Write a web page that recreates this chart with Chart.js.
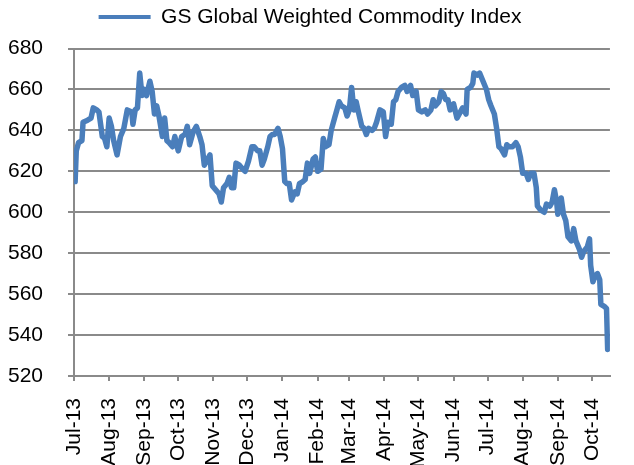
<!DOCTYPE html>
<html>
<head>
<meta charset="utf-8">
<script src="https://cdn.jsdelivr.net/npm/chart.js"></script>
<style>
  html, body { margin: 0; padding: 0; background: #ffffff; }
  #wrap { width: 634px; height: 465px; }
</style>
</head>
<body>
<div id="wrap"><canvas id="indexChart" width="634" height="465"></canvas></div>
<script>
// Days since 1 Jul 2013 and index level
const days = [
  1, 2, 4, 7, 8, 12, 15, 17, 20, 22, 25, 27, 29,
  31, 33, 35, 38, 41, 44, 47, 51, 52, 54, 56, 58, 60,
  62, 64, 67, 69, 71, 73, 75, 78, 80, 82, 84, 87, 89,
  92, 95, 98, 100, 102, 105, 108, 111, 113, 115, 118, 120, 122,
  125, 128, 130, 132, 135, 137, 139, 141, 143, 146, 149, 151,
  154, 157, 159, 162, 164, 166, 168, 171, 173, 175, 177, 180, 182,
  184, 186, 188, 190, 192, 195, 197, 199, 202, 204, 206, 208, 211, 213,
  215, 218, 220, 222, 225, 227, 230, 232, 234, 236, 239, 241,
  243, 245, 247, 249, 251, 254, 256, 258, 260, 263, 265, 267, 270, 273,
  275, 277, 280, 282, 284, 286, 289, 292, 294, 297, 299, 302,
  304, 307, 310, 312, 315, 317, 319, 322, 324, 326, 328, 330, 332,
  335, 338, 341, 343, 346, 347, 350, 352, 353, 356, 358, 361, 364,
  366, 368, 371, 373, 375, 377, 380, 382, 384, 387, 390, 392, 394,
  396, 399, 401, 403, 406, 408, 409, 412, 415, 417, 420, 422, 424, 426,
  427, 430, 432, 434, 436, 439, 441, 443, 446, 448, 450, 453, 455,
  456, 458, 460, 462, 464, 465, 468, 470, 471
];
const values = [
  615, 630, 634, 635, 644, 645, 646, 651, 650, 649, 637, 636, 632,
  646, 642, 635, 628, 637, 641, 650, 649, 643, 650, 651, 668, 657,
  660, 657, 664, 659, 648, 652, 647, 637, 646, 635, 634, 632, 637,
  630, 637, 638, 642, 633, 639, 642, 637, 633, 623, 626, 628, 613,
  611, 609, 605, 612, 614, 617, 612, 612, 624, 623, 621, 620,
  625, 632, 632, 630, 630, 623, 626, 632, 637, 638, 638, 641, 637,
  631, 615, 614, 614, 606, 610, 609, 614, 615, 616, 624, 619, 626, 627,
  620, 621, 636, 632, 633, 640, 646, 650, 654, 652, 651, 647,
  650, 661, 650, 654, 649, 642, 641, 638, 641, 640, 641, 644, 650, 649,
  637, 644, 643, 654, 655, 659, 661, 662, 659, 662, 657, 659,
  650, 649, 650, 648, 650, 655, 652, 654, 659, 658, 655, 655, 650,
  653, 646, 649, 651, 648, 660, 661, 663, 668, 667, 668, 664, 660,
  655, 652, 648, 641, 632, 631, 628, 633, 632, 632, 634, 632, 627,
  619, 619, 616, 619, 619, 612, 603, 601, 600, 604, 603, 605, 611, 605,
  599, 607, 599, 596, 588, 586, 592, 586, 582, 578, 581, 583, 587,
  574, 566, 569, 570, 567, 555, 554, 553, 533
];

// Month ticks on the date axis
const monthLabels = ['Jul-13', 'Aug-13', 'Sep-13', 'Oct-13', 'Nov-13', 'Dec-13',
  'Jan-14', 'Feb-14', 'Mar-14', 'Apr-14', 'May-14', 'Jun-14', 'Jul-14',
  'Aug-14', 'Sep-14', 'Oct-14'];
const monthStarts = [0, 31, 62, 92, 123, 153, 184, 215, 243, 274, 304, 335,
  365, 396, 427, 457];
const yTicks = [520, 540, 560, 580, 600, 620, 640, 660, 680];

const seriesName = 'GS Global Weighted Commodity Index';
const lineBlue = '#4a7ebb';
const gridGrey = '#8a8a8a';
const font = { family: '"Liberation Sans", Arial, sans-serif', size: 21 };

// nudge the legend a little up and left, like the original
const legendNudge = {
  id: 'legendNudge',
  afterLayout(chart) {
    const lg = chart.legend;
    if (!lg) return;
    lg.left -= 7;
    lg.right -= 7;
    lg.top -= 11;
    lg.bottom -= 11;
  }
};

const ctx = document.getElementById('indexChart').getContext('2d');

new Chart(ctx, {
  type: 'line',
  data: {
    datasets: [{
      label: seriesName,
      data: days.map((d, i) => ({ x: d, y: values[i] })),
      borderColor: lineBlue,
      backgroundColor: lineBlue,
      borderWidth: 5.5,
      pointRadius: 0,
      tension: 0,
      borderJoinStyle: 'round',
      borderCapStyle: 'round'
    }]
  },
  plugins: [legendNudge],
  options: {
    responsive: false,
    devicePixelRatio: 1,
    animation: false,
    layout: { padding: 0 },
    plugins: {
      legend: {
        position: 'top',
        labels: {
          font: font,
          color: '#000000',
          boxWidth: 52,
          boxHeight: 4,
          padding: 17.5,
          // plain thin line as the legend key, no outline
          generateLabels: function(chart) {
            const items = Chart.defaults.plugins.legend.labels.generateLabels(chart);
            items.forEach(it => { it.lineWidth = 0; });
            return items;
          }
        }
      },
      tooltip: { enabled: false }
    },
    scales: {
      x: {
        type: 'linear',
        min: 0,
        max: 473,
        afterBuildTicks: function(scale) {
          scale.ticks = monthStarts.map(v => ({ value: v }));
        },
        afterFit: function(scale) {
          scale.height = 89;
        },
        ticks: {
          autoSkip: false,
          maxRotation: 90,
          minRotation: 90,
          padding: 17,
          font: font,
          color: '#000000',
          callback: function(value) {
            const i = monthStarts.indexOf(value);
            return i >= 0 ? monthLabels[i] : '';
          }
        },
        grid: {
          drawOnChartArea: false,
          drawTicks: true,
          tickLength: 5,
          color: gridGrey,
          lineWidth: 2
        },
        border: { display: true, color: gridGrey, width: 2 }
      },
      y: {
        min: 520,
        max: 680,
        afterBuildTicks: function(scale) {
          scale.ticks = yTicks.map(v => ({ value: v }));
        },
        afterFit: function(scale) {
          scale.width = 74;
        },
        ticks: {
          padding: 25,
          font: font,
          color: '#000000'
        },
        grid: {
          drawTicks: true,
          tickLength: 6,
          color: gridGrey,
          lineWidth: 2
        },
        border: { display: true, color: gridGrey, width: 2 }
      }
    }
  }
});
</script>
</body>
</html>
